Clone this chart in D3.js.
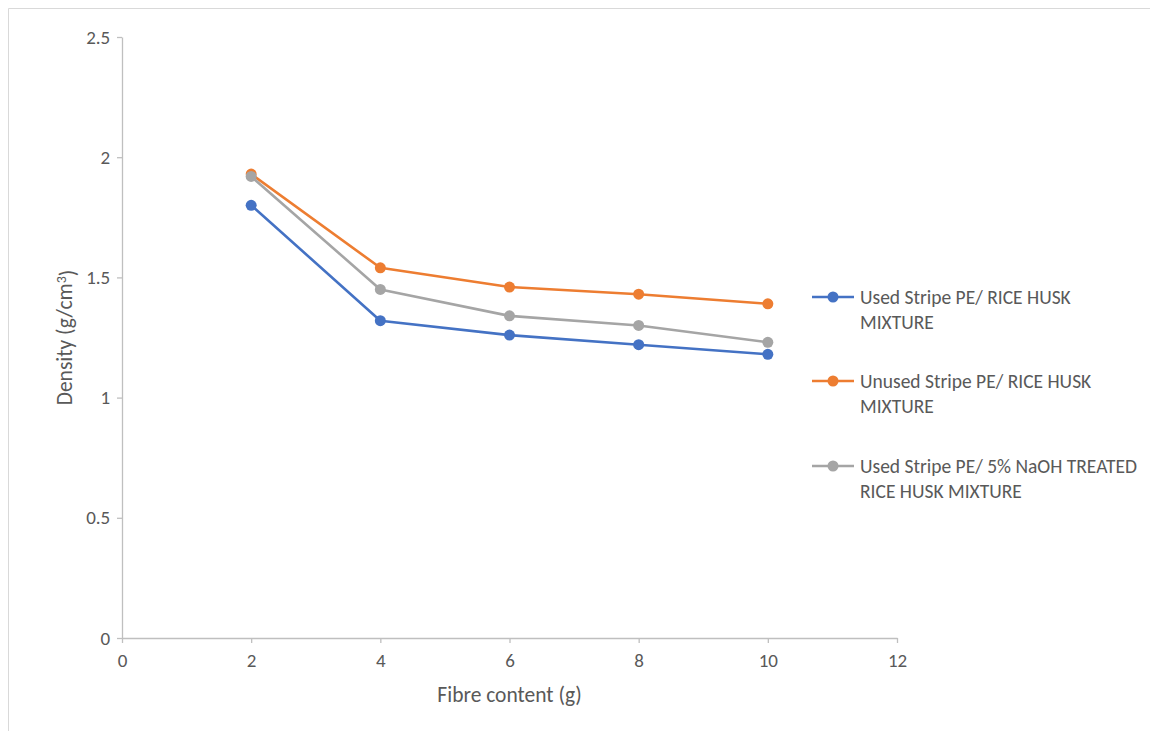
<!DOCTYPE html>
<html>
<head>
<meta charset="utf-8">
<script src="https://cdn.jsdelivr.net/npm/d3@7"></script>
<style>
  html, body { margin: 0; padding: 0; background: #fff; }
  svg { display: block; }
  text { font-family: Carlito, "Open Sans", "Liberation Sans", sans-serif; }
</style>
</head>
<body>
<svg id="chart" width="1150" height="731"></svg>
<script>
// Fibre content (g) on the x axis
const fibreContent = [2, 4, 6, 8, 10];

// Density (g/cm³) for each mixture
const usedRiceHusk = [1.80, 1.32, 1.26, 1.22, 1.18];
const unusedRiceHusk = [1.93, 1.54, 1.46, 1.43, 1.39];
const usedNaOHRiceHusk = [1.92, 1.45, 1.34, 1.30, 1.23];

const seriesNames = [
  ["Used Stripe PE/ RICE HUSK", "MIXTURE"],
  ["Unused Stripe PE/ RICE HUSK", "MIXTURE"],
  ["Used Stripe PE/ 5% NaOH TREATED", "RICE HUSK MIXTURE"]
];
const seriesColors = ["#4472C4", "#ED7D31", "#A5A5A5"];

const xTicks = [0, 2, 4, 6, 8, 10, 12];
const yTicks = [0, 0.5, 1, 1.5, 2, 2.5];

const series = [usedRiceHusk, unusedRiceHusk, usedNaOHRiceHusk].map((vals, i) => ({
  name: seriesNames[i],
  color: seriesColors[i],
  points: fibreContent.map((x, j) => ({ x, y: vals[j] }))
}));

const svg = d3.select("#chart");

// chart frame (top and left edges)
svg.append("line").attr("x1", 8.5).attr("x2", 1150).attr("y1", 8.5).attr("y2", 8.5)
  .attr("stroke", "#D9D9D9").attr("stroke-width", 1);
svg.append("line").attr("x1", 8.5).attr("x2", 8.5).attr("y1", 8.5).attr("y2", 731)
  .attr("stroke", "#D9D9D9").attr("stroke-width", 1);

const x = d3.scaleLinear().domain([0, 12]).range([122, 897]);
const y = d3.scaleLinear().domain([0, 2.5]).range([638, 37]);

const axisColor = "#BFBFBF";
const labelColor = "#595959";

// x axis
const gx = svg.append("g").attr("transform", `translate(0,${y(0)})`)
  .call(d3.axisBottom(x).tickValues(xTicks).tickFormat(d3.format("d")).tickSizeInner(5).tickSizeOuter(0));
gx.select(".domain").attr("stroke", axisColor).attr("stroke-width", 1.3);
gx.selectAll(".tick line").attr("stroke", axisColor).attr("stroke-width", 1.3);
gx.selectAll(".tick text").attr("fill", labelColor).attr("font-size", 19).attr("dy", "1.1em");

// y axis
const gy = svg.append("g").attr("transform", `translate(${x(0)},0)`)
  .call(d3.axisLeft(y).tickValues(yTicks).tickFormat(d => String(d)).tickSizeInner(5).tickSizeOuter(0));
gy.select(".domain").attr("stroke", axisColor).attr("stroke-width", 1.3);
gy.selectAll(".tick line").attr("stroke", axisColor).attr("stroke-width", 1.3);
gy.selectAll(".tick text").attr("fill", labelColor).attr("font-size", 19).attr("dx", "-0.2em");

// axis titles
svg.append("text")
  .attr("x", x(6)).attr("y", 702)
  .attr("text-anchor", "middle").attr("fill", labelColor).attr("font-size", 21.5)
  .text("Fibre content (g)");

const yTitle = svg.append("text")
  .attr("transform", `translate(72,${y(1.25)}) rotate(-90)`)
  .attr("text-anchor", "middle").attr("fill", labelColor).attr("font-size", 21.5);
yTitle.append("tspan").text("Density (g/cm");
yTitle.append("tspan").attr("dy", "-0.45em").attr("font-size", 14).text("3");
yTitle.append("tspan").attr("dy", "0.45em").text(")");

// series lines and markers
const line = d3.line().x(d => x(d.x)).y(d => y(d.y));
const gSeries = svg.append("g");
series.forEach(s => {
  gSeries.append("path").datum(s.points)
    .attr("d", line).attr("fill", "none")
    .attr("stroke", s.color).attr("stroke-width", 2.6).attr("stroke-linejoin", "round");
  gSeries.selectAll(null).data(s.points).enter().append("circle")
    .attr("cx", d => x(d.x)).attr("cy", d => y(d.y)).attr("r", 5.5)
    .attr("fill", s.color);
});

// legend
const legend = svg.append("g");
const legendTop = [297, 381, 466];
series.forEach((s, i) => {
  const g = legend.append("g").attr("transform", `translate(0,${legendTop[i]})`);
  g.append("line").attr("x1", 812).attr("x2", 854).attr("y1", 0).attr("y2", 0)
    .attr("stroke", s.color).attr("stroke-width", 2.6);
  g.append("circle").attr("cx", 833).attr("cy", 0).attr("r", 5.5).attr("fill", s.color);
  s.name.forEach((ln, k) => {
    g.append("text").attr("x", 860).attr("y", k * 25).attr("dy", "0.35em")
      .attr("fill", labelColor).attr("font-size", 19.5).text(ln);
  });
});
</script>
</body>
</html>
